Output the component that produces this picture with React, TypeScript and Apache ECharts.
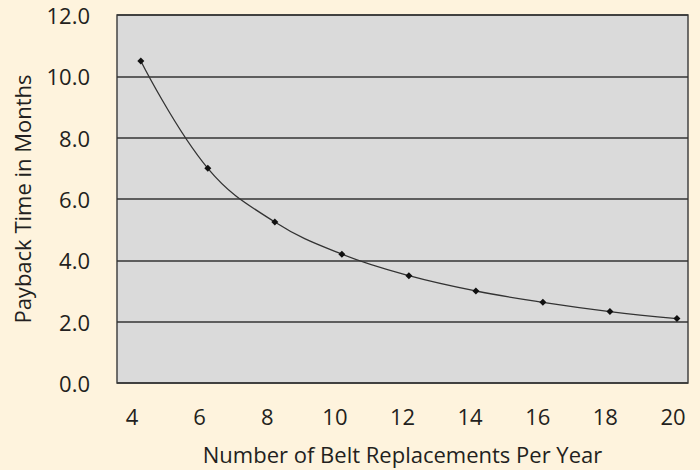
import React, { useEffect, useRef } from "react";
import * as echarts from "echarts";

const replacements = [4, 6, 8, 10, 12, 14, 16, 18, 20];
const paybackMonths = [10.5, 7.0, 5.25, 4.2, 3.5, 3.0, 2.63, 2.33, 2.1];
const xTickLabels = [4, 6, 8, 10, 12, 14, 16, 18, 20];
const yTicks = [0, 2, 4, 6, 8, 10, 12];

const FONT = "'Open Sans', 'Noto Sans', sans-serif";
const TEXT = "#231F20";

export default function App() {
  const ref = useRef<HTMLDivElement>(null);
  useEffect(() => {
    if (!ref.current) return;
    const chart = echarts.init(ref.current, undefined, { renderer: "svg" });
    chart.setOption({
      animation: false,
      backgroundColor: "#FEF3DD",
      textStyle: { fontFamily: FONT },
      grid: {
        left: 117,
        right: 12,
        top: 15,
        bottom: 84,
        show: true,
        backgroundColor: "#DADADA",
        borderColor: "#444444",
        borderWidth: 1.5,
      },
      xAxis: [
        {
          type: "value",
          min: 3.556,
          max: 20.444,
          axisLine: { show: false },
          axisTick: { show: false },
          splitLine: { show: false },
          axisLabel: {
            customValues: xTickLabels,
            fontSize: 22,
            color: TEXT,
            fontFamily: FONT,
            margin: 22,
          },
          name: "Number of Belt Replacements Per Year",
          nameLocation: "middle",
          nameGap: 60,
          nameTextStyle: { fontSize: 22, color: TEXT, fontFamily: FONT },
        },
        {
          type: "value",
          min: 3.29,
          max: 20.33,
          show: false,
          splitLine: { show: false },
        },
      ],
      yAxis: {
        type: "value",
        min: yTicks[0],
        max: yTicks[yTicks.length - 1],
        interval: 2,
        axisLine: { show: false },
        axisTick: { show: false },
        splitLine: { show: true, lineStyle: { color: "#333", width: 1.5 } },
        axisLabel: {
          formatter: (v: number) => v.toFixed(1),
          fontSize: 22,
          color: TEXT,
          fontFamily: FONT,
          margin: 27,
        },
        name: "Payback Time in Months",
        nameLocation: "middle",
        nameGap: 84,
        nameTextStyle: { fontSize: 22, color: TEXT, fontFamily: FONT },
      },
      series: [
        {
          type: "line",
          xAxisIndex: 1,
          data: replacements.map((x, i) => [x, paybackMonths[i]]),
          smooth: 0.4,
          symbol: "diamond",
          symbolSize: 7,
          showSymbol: true,
          lineStyle: { color: "#333", width: 1.3 },
          itemStyle: { color: "#111" },
        },
      ],
    });
    return () => chart.dispose();
  }, []);
  return (
    <div
      ref={ref}
      style={{ position: "fixed", left: 0, top: 0, width: 700, height: 470 }}
    />
  );
}
